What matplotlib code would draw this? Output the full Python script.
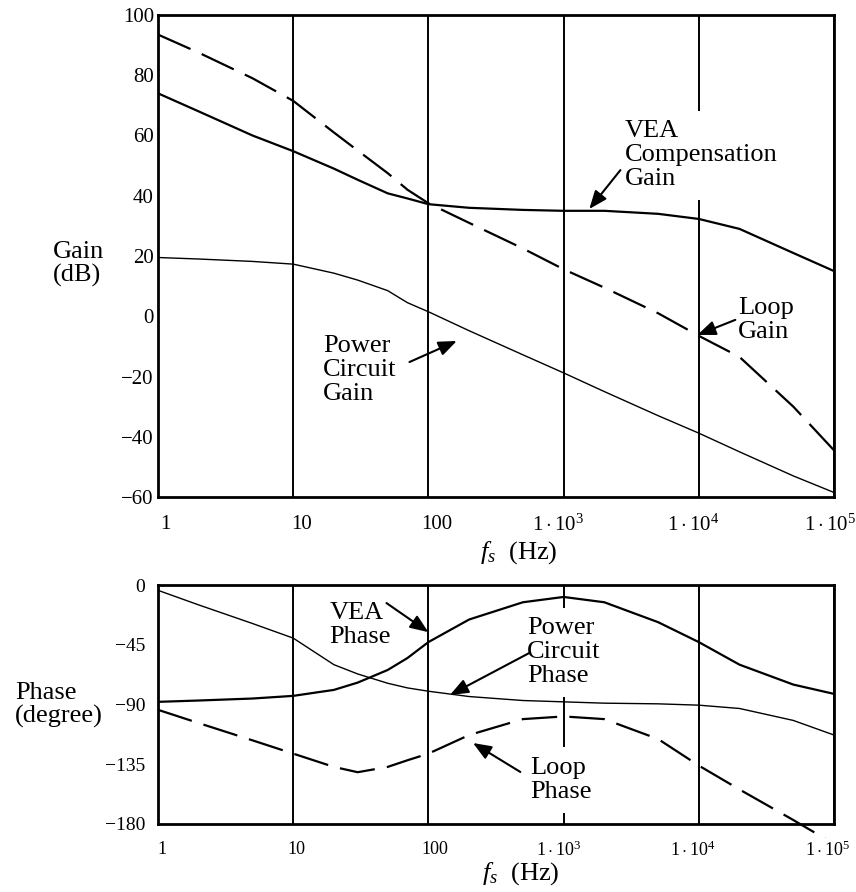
import matplotlib
matplotlib.use('Agg')
import matplotlib.pyplot as plt
from matplotlib.transforms import ScaledTranslation
from matplotlib.patches import Rectangle
from matplotlib.ticker import NullLocator

plt.rcParams['font.family'] = ['Liberation Serif', 'DejaVu Serif']
plt.rcParams['mathtext.fontset'] = 'custom'
plt.rcParams['mathtext.rm'] = 'Liberation Serif'
plt.rcParams['mathtext.it'] = 'Liberation Serif:italic'
plt.rcParams['mathtext.bf'] = 'Liberation Serif:bold'

# ---------------- data ----------------
freq = [1, 2, 5, 10, 20, 30, 50, 70, 100, 200, 500, 1e3, 2e3, 5e3, 1e4, 2e4, 5e4, 1e5]

vea_gain = [74, 68, 60, 54.8, 49, 45.3, 40.8, 39.1, 37.2, 36, 35.3, 35, 35, 34, 32.3, 29, 21, 15]
power_gain = [19.5, 19, 18.2, 17.3, 14.3, 12, 8.5, 4.5, 1.5, -4.8, -12.8, -18.8, -25, -33, -38.8, -45, -53, -58.5]
loop_gain = [93.5, 87.5, 79, 71.5, 61, 55, 47.5, 42, 37.5, 31, 22.5, 15.6, 9.5, 1, -6.5, -13.5, -30, -44.5]

vea_phase = [-88, -87, -85.5, -83.5, -79, -73.5, -64, -55, -43, -26, -13, -9, -13, -28, -43, -60, -75, -82]
power_phase = [-4, -15, -29, -40, -60, -67, -74, -77.5, -80, -84, -87, -88, -89, -89.5, -90.5, -93, -102, -113]
loop_phase = [-94, -104, -117, -127, -137, -141, -137, -132, -127, -113, -101, -99, -101, -116, -136, -154, -177, -195]

decade_ticks = [1, 10, 100, 1e3, 1e4, 1e5]
decade_labels = ['1', '10', '100', r'$1\cdot10^{3}$', r'$1\cdot10^{4}$', r'$1\cdot10^{5}$']
gain_ticks = [-60, -40, -20, 0, 20, 40, 60, 80, 100]
phase_ticks = [-180, -135, -90, -45, 0]

# ---------------- figure ----------------
W, H = 856, 892
fig = plt.figure(figsize=(W / 100, H / 100), dpi=100)
ax1 = fig.add_axes([158 / W, 1 - 497 / H, 676 / W, 482 / H])
ax2 = fig.add_axes([158 / W, 1 - 824 / H, 676 / W, 239 / H])

for ax in (ax1, ax2):
    ax.set_xscale('log')
    ax.set_xlim(1, 1e5)
    ax.xaxis.set_minor_locator(NullLocator())
    ax.set_axisbelow(True)
    ax.grid(axis='x', which='major', color='black', lw=1.4)
    ax.grid(axis='y', visible=False)
    for s in ax.spines.values():
        s.set_linewidth(2.0)
        s.set_zorder(2.5)
    ax.tick_params(length=0)

dash = (16, 5.5)

# ---- gain panel ----
ax1.set_ylim(-60, 100)
ax1.set_yticks(gain_ticks)
ax1.set_xticks(decade_ticks)
ax1.set_xticklabels(decade_labels, fontsize=15)
ax1.tick_params(axis='y', labelsize=15, pad=3)
ax1.tick_params(axis='x', pad=13)
ax1.plot(freq, vea_gain, color='black', lw=1.6, zorder=4)
ax1.plot(freq, power_gain, color='black', lw=1.0, zorder=4)
ax1.plot(freq, loop_gain, color='black', lw=1.6, dashes=dash, zorder=4)
ax1.set_xlabel(r'$f_s$  (Hz)', fontsize=19)
ax1.xaxis.set_label_coords((519 - 158) / 676, (497 - 553) / 482)
ax1.xaxis.label.set_va('center')

tfs = 19
box = dict(facecolor='white', edgecolor='none', pad=7)
arrow = dict(arrowstyle='-|>,head_length=0.55,head_width=0.22', color='black',
             lw=1.5, mutation_scale=20, shrinkA=0, shrinkB=0)

ax1.text(10 ** 3.45, 53.5, 'VEA\nCompensation\nGain', fontsize=tfs, ha='left', va='center',
         linespacing=1.1, bbox=box, zorder=3)
ax1.annotate('', xy=(10 ** 3.19, 35.6), xytext=(10 ** 3.42, 48.5), arrowprops=arrow, zorder=5)

ax1.text(10 ** 4.29, -1.2, 'Loop\nGain', fontsize=tfs, ha='left', va='center',
         linespacing=1.1, bbox=box, zorder=3)
ax1.annotate('', xy=(10 ** 3.99, -6.2), xytext=(10 ** 4.27, -1.2), arrowprops=arrow, zorder=5)

ax1.text(10 ** 1.22, -17.8, 'Power\nCircuit\nGain', fontsize=tfs, ha='left', va='center',
         linespacing=1.1, zorder=3)
ax1.annotate('', xy=(10 ** 2.21, -8.2), xytext=(10 ** 1.86, -15.2), arrowprops=arrow, zorder=5)

# ---- phase panel ----
ax2.set_ylim(-180, 0)
ax2.set_yticks(phase_ticks)
ax2.set_xticks(decade_ticks)
ax2.set_xticklabels(decade_labels, fontsize=13)
ax2.tick_params(axis='y', labelsize=14, pad=9)
ax2.tick_params(axis='x', pad=12)
ax2.plot(freq, vea_phase, color='black', lw=1.6, zorder=4)
ax2.plot(freq, power_phase, color='black', lw=1.0, zorder=4)
lp, = ax2.plot(freq, loop_phase, color='black', lw=1.6, dashes=dash, zorder=4)
lp.set_clip_path(Rectangle((0, -0.06), 1, 1.06, transform=ax2.transAxes))
ax2.set_xlabel(r'$f_s$  (Hz)', fontsize=19)
ax2.xaxis.set_label_coords((521 - 158) / 676, (824 - 874) / 239)
ax2.xaxis.label.set_va('center')

ax2.text(10 ** 1.27, -30, 'VEA\nPhase', fontsize=tfs, ha='left', va='center',
         linespacing=1.1, zorder=3)
ax2.annotate('', xy=(10 ** 2.0, -35.5), xytext=(10 ** 1.69, -13.6), arrowprops=arrow, zorder=5)

ax2.text(10 ** 2.73, -50.5, 'Power\nCircuit\nPhase', fontsize=tfs, ha='left', va='center',
         linespacing=1.1, bbox=box, zorder=3)
ax2.annotate('', xy=(10 ** 2.16, -82.8), xytext=(10 ** 2.75, -51), arrowprops=arrow, zorder=5)

ax2.text(10 ** 2.75, -146.8, 'Loop\nPhase', fontsize=tfs, ha='left', va='center',
         linespacing=1.1, bbox=box, zorder=3)
ax2.annotate('', xy=(10 ** 2.33, -119), xytext=(10 ** 2.68, -140.8), arrowprops=arrow, zorder=5)

# axis titles (left)
fig.text(53 / W, 1 - 264 / H, 'Gain\n(dB)', fontsize=tfs, ha='left', va='center', linespacing=1.1)
fig.text(15 / W, 1 - 705 / H, 'Phase\n(degree)', fontsize=tfs, ha='left', va='center', linespacing=1.1)

# shift tick labels to match reference alignment
offs1 = [7, 8, 8, -6, -6, -4]
offs2 = [4, 3, 6, -5, -6, -6]
for ax, offs in ((ax1, offs1), (ax2, offs2)):
    for lab, o in zip(ax.get_xticklabels(), offs):
        lab.set_transform(lab.get_transform() + ScaledTranslation(o / 100, 0, fig.dpi_scale_trans))

fig.savefig('out.png', dpi=100)
